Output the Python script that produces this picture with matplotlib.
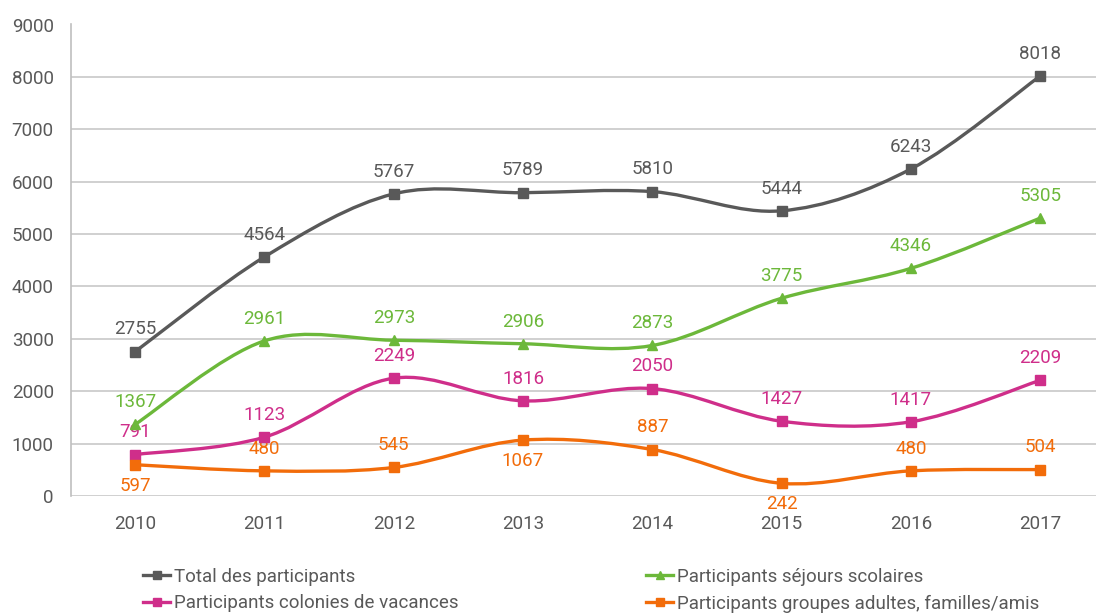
import matplotlib
matplotlib.use("Agg")
import matplotlib.pyplot as plt
from matplotlib.path import Path
from matplotlib.patches import PathPatch
from matplotlib.lines import Line2D
import numpy as np

# Data
years = ["2010", "2011", "2012", "2013", "2014", "2015", "2016", "2017"]
total = [2755, 4564, 5767, 5789, 5810, 5444, 6243, 8018]
scolaires = [1367, 2961, 2973, 2906, 2873, 3775, 4346, 5305]
colonies = [791, 1123, 2249, 1816, 2050, 1427, 1417, 2209]
adultes = [597, 480, 545, 1067, 887, 242, 480, 504]

names = ["Total des participants", "Participants séjours scolaires",
         "Participants colonies de vacances", "Participants groupes adultes, familles/amis"]
# labels placed below the point (series index, point index)
below = {(3, 0), (3, 3), (3, 5)}

colors = ["#595959", "#6CB83A", "#CF2E8A", "#F26C0A"]
markers = ["s", "^", "s", "s"]

plt.rcParams["font.family"] = ["Roboto", "DejaVu Sans"]
plt.rcParams["font.size"] = 13.5


def smooth_path(x, y):
    # Catmull-Rom style cubic Bezier through the points (like Excel smoothed lines)
    pts = np.column_stack([x, y]).astype(float)
    n = len(pts)
    verts = [pts[0]]
    codes = [Path.MOVETO]
    for i in range(n - 1):
        p0 = pts[i - 1] if i > 0 else pts[i]
        p1 = pts[i]
        p2 = pts[i + 1]
        p3 = pts[i + 2] if i + 2 < n else pts[i + 1]
        c1 = p1 + (p2 - p0) / 6.0
        c2 = p2 - (p3 - p1) / 6.0
        verts += [c1, c2, p2]
        codes += [Path.CURVE4] * 3
    return Path(verts, codes)


fig = plt.figure(figsize=(10.96, 6.15), dpi=100)
ax = fig.add_axes([70.5 / 1096, 1 - 496 / 615, 1034.4 / 1096, 471.5 / 615])
ax.set_xlim(-0.5, 7.5)
ax.set_ylim(0, 9000)

x = np.arange(len(years))
series = [total, scolaires, colonies, adultes]
for si, vals in enumerate(series):
    patch = PathPatch(smooth_path(x, vals), facecolor="none", edgecolor=colors[si], lw=2.4,
                      zorder=3, capstyle="round")
    ax.add_patch(patch)
    ax.plot(x, vals, ls="none", marker=markers[si], color=colors[si],
            markersize=7.5 if markers[si] == "^" else 7, zorder=4)
    for pi, v in enumerate(vals):
        if (si, pi) in below:
            ax.annotate(str(v), (pi, v), xytext=(0, -15), textcoords="offset points",
                        ha="center", va="center", color=colors[si], fontsize=13.5)
        else:
            ax.annotate(str(v), (pi, v), xytext=(0, 16), textcoords="offset points",
                        ha="center", va="center", color=colors[si], fontsize=13.5)

ax.set_xticks(x)
ax.set_xticklabels(years)
ax.set_yticks(np.arange(0, 9001, 1000))
ax.grid(axis="y", color="#C8C8C8", lw=1.2, zorder=0)
ax.tick_params(axis="both", length=0, colors="#595959", labelsize=13.5)
ax.tick_params(axis="y", pad=12)
ax.tick_params(axis="x", pad=14)
for s in ["top", "right", "bottom"]:
    ax.spines[s].set_visible(False)
ax.spines["left"].set_color("#BFBFBF")
ax.spines["left"].set_linewidth(1.2)
ax.set_axisbelow(True)

# Legend, two columns placed separately
handles = [Line2D([], [], color=colors[i], marker=markers[i], lw=2.4, markersize=5.5) for i in range(4)]
for col, idx in enumerate([(0, 2), (1, 3)]):
    leg = fig.legend([handles[i] for i in idx], [names[i] for i in idx],
                     loc="upper left", bbox_to_anchor=([143, 646][col] / 1096, 1 - 568 / 615),
                     frameon=False, handlelength=1.45, handletextpad=0.2, labelspacing=0.45,
                     fontsize=13.5, borderaxespad=0, borderpad=0)
    for t in leg.get_texts():
        t.set_color("#595959")

fig.savefig("out.png", dpi=100)
